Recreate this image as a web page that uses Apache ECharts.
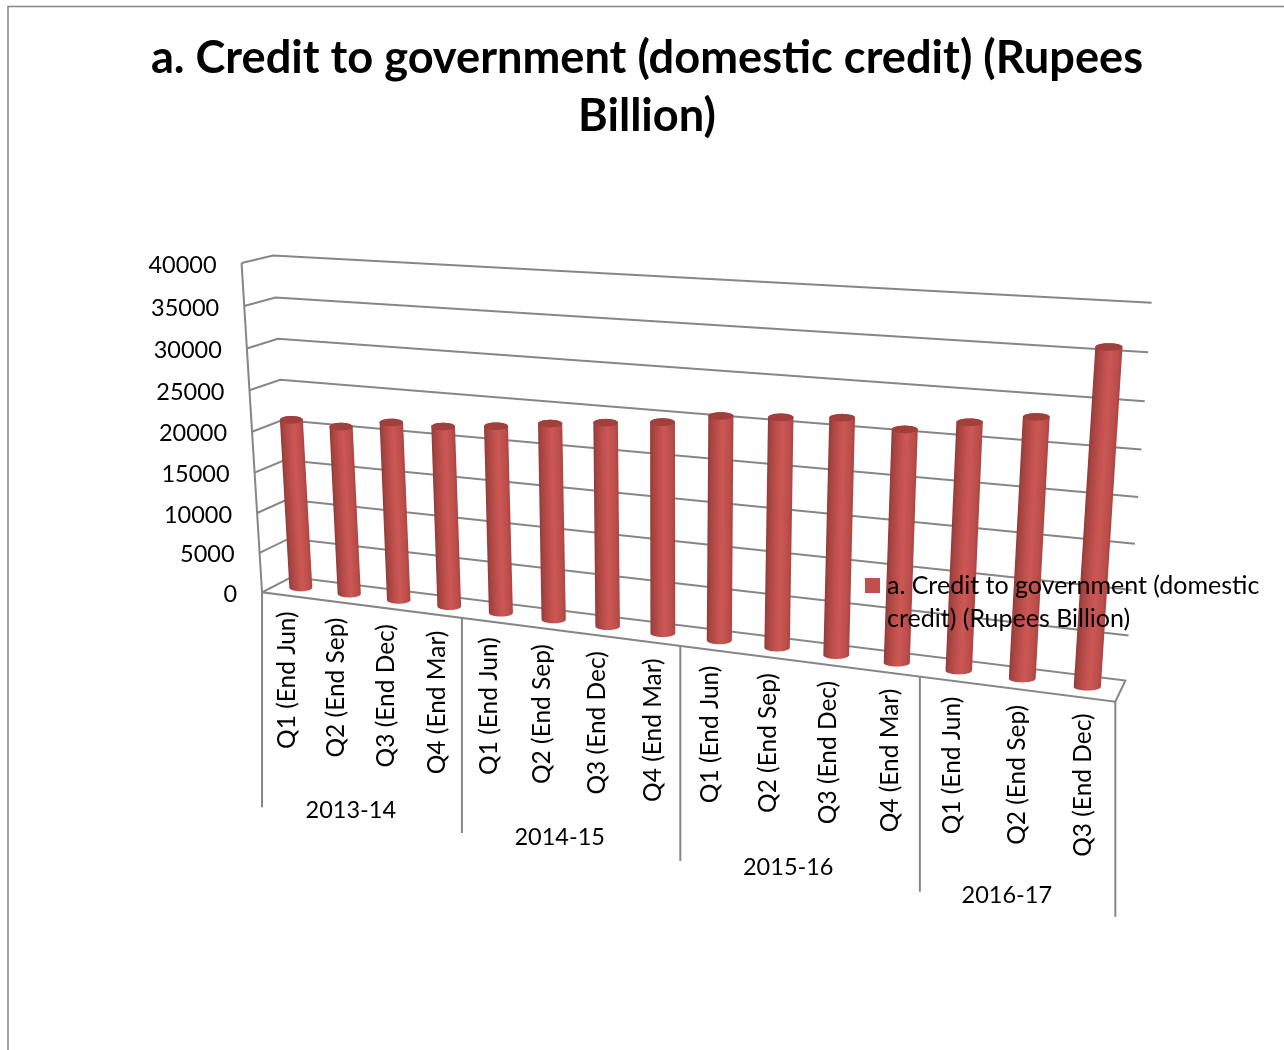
<!DOCTYPE html>
<html>
<head>
<meta charset="utf-8">
<style>html,body{margin:0;padding:0;background:#fff}#chart{width:1284px;height:1050px}</style>
<script src="https://cdn.jsdelivr.net/npm/echarts@6/dist/echarts.min.js"></script>
</head>
<body>
<div id="chart"></div>
<script>
// Chart data
const chartTitle = 'a. Credit to government (domestic credit) (Rupees\nBillion)';
const seriesName = 'a. Credit to government (domestic credit) (Rupees Billion)';
const quarters = ['Q1 (End Jun)', 'Q2 (End Sep)', 'Q3 (End Dec)', 'Q4 (End Mar)',
  'Q1 (End Jun)', 'Q2 (End Sep)', 'Q3 (End Dec)', 'Q4 (End Mar)',
  'Q1 (End Jun)', 'Q2 (End Sep)', 'Q3 (End Dec)', 'Q4 (End Mar)',
  'Q1 (End Jun)', 'Q2 (End Sep)', 'Q3 (End Dec)'];
const creditValues = [21000, 20720, 21760, 21820, 22400, 23250, 23900, 24500,
  25720, 26100, 26600, 25880, 27180, 28280, 35900];
const fiscalYears = ['2013-14', '2014-15', '2015-16', '2016-17'];
const fiscalYearStart = [0, 4, 8, 12, 15];
const valueTicks = [0, 5000, 10000, 15000, 20000, 25000, 30000, 35000, 40000];

// Camera: anchors tie the unit box (width, depth, height) to the page, and a
// 3x4 projective matrix is fitted through them by least squares.
const viewAnchors = [
  [0, 0, 0, 263.3, 591.7], [1, 0, 0, 1115.7, 702.7], [1, 1, 0, 1125.7, 679], [0, 1, 0, 290, 578.3],
  [0, 0, 1, 240, 263.3], [0, 1, 1, 274, 255.3], [1, 1, 1, 1151.7, 303.3],
  [4 / 15, 0, 0, 462, 618], [8 / 15, 0, 0, 680, 646], [12 / 15, 0, 0, 919.3, 677],
  [0, 0, 0.5, 252.7, 431], [0, 1, 0.5, 283, 420], [1, 1, 0.5, 1138, 496.7]
];

function fitCamera(anchors) {
  const n = 11, A = Array.from({length: n}, () => new Array(n + 1).fill(0));
  const add = (row, rhs) => {
    for (let i = 0; i < n; i++) {
      for (let j = 0; j < n; j++) A[i][j] += row[i] * row[j];
      A[i][n] += row[i] * rhs;
    }
  };
  anchors.forEach(([u, v, h, x, y]) => {
    add([u, v, h, 1, 0, 0, 0, 0, -x * u, -x * v, -x * h], x);
    add([0, 0, 0, 0, u, v, h, 1, -y * u, -y * v, -y * h], y);
  });
  for (let c = 0; c < n; c++) {
    let p = c;
    for (let r = c + 1; r < n; r++) if (Math.abs(A[r][c]) > Math.abs(A[p][c])) p = r;
    [A[c], A[p]] = [A[p], A[c]];
    for (let r = 0; r < n; r++) {
      if (r === c) continue;
      const f = A[r][c] / A[c][c];
      for (let k = c; k <= n; k++) A[r][k] -= f * A[c][k];
    }
  }
  return A.map((row, i) => row[n] / row[i]);
}
const cam = fitCamera(viewAnchors);
function project(u, v, h) {
  const w = cam[8] * u + cam[9] * v + cam[10] * h + 1;
  return [(cam[0] * u + cam[1] * v + cam[2] * h + cam[3]) / w,
          (cam[4] * u + cam[5] * v + cam[6] * h + cam[7]) / w];
}

// Turns an axis coordinate from the flat cartesian grid into box coordinates.
function boxPosition(api, params, category, value) {
  const cs = params.coordSys, pt = api.coord([category, value]);
  return [(pt[0] - cs.x) / cs.width, (cs.y + cs.height - pt[1]) / cs.height];
}

const LINE = {stroke: '#868686', lineWidth: 2, fill: null};
const FONT = 'Lato, "Open Sans", sans-serif';
const LABEL_SIZE = 24.5;
const BAR_DEPTH = 0.5, CAP_HALF_HEIGHT = 3.8;

function convexHull(pts) {
  const s = pts.slice().sort((a, b) => a[0] - b[0] || a[1] - b[1]);
  const cross = (o, a, b) => (a[0] - o[0]) * (b[1] - o[1]) - (a[1] - o[1]) * (b[0] - o[0]);
  const half = list => {
    const out = [];
    list.forEach(p => {
      while (out.length > 1 && cross(out[out.length - 2], out[out.length - 1], p) <= 0) out.pop();
      out.push(p);
    });
    out.pop();
    return out;
  };
  return half(s).concat(half(s.reverse()));
}

function renderCylinder(params, api) {
  const i = api.value(0);
  const [u, h] = boxPosition(api, params, i, api.value(1));
  const pixelsPerU = project(u + 0.01, BAR_DEPTH, 0)[0] - project(u - 0.01, BAR_DEPTH, 0)[0];
  const halfWidth = 5.85 + 0.392 * pixelsPerU;
  const ring = level => {
    const c = project(u, BAR_DEPTH, level), out = [];
    for (let k = 0; k < 48; k++) {
      const t = k / 48 * Math.PI * 2;
      out.push([c[0] + halfWidth * Math.cos(t), c[1] + CAP_HALF_HEIGHT * Math.sin(t)]);
    }
    return out;
  };
  const base = ring(0), top = ring(h);
  const bc = project(u, BAR_DEPTH, 0), tc = project(u, BAR_DEPTH, h);
  const my = (bc[1] + tc[1]) / 2, mx = (bc[0] + tc[0]) / 2;
  // Shading runs across the leaning cylinder, square to its axis.
  const len = Math.hypot(tc[0] - bc[0], tc[1] - bc[1]);
  const nx = (bc[1] - tc[1]) / len, ny = (tc[0] - bc[0]) / len;
  const shade = new echarts.graphic.LinearGradient(
    mx - nx * halfWidth, my - ny * halfWidth, mx + nx * halfWidth, my + ny * halfWidth, [
    {offset: 0, color: '#933a37'}, {offset: 0.12, color: '#a64441'},
    {offset: 0.4, color: '#c2504d'}, {offset: 0.58, color: '#cb5855'},
    {offset: 0.85, color: '#bd4e4b'}, {offset: 1, color: '#a94643'}
  ], true);
  return {
    type: 'group',
    children: [
      {type: 'polygon', shape: {points: convexHull(base.concat(top))}, style: {fill: shade}},
      {type: 'polygon', shape: {points: top}, style: {fill: '#a23f3c'}}
    ]
  };
}

function renderLevel(params, api) {
  const h = boxPosition(api, params, 0, api.value(1))[1];
  const points = [project(0, 0, h), project(0, 1, h), project(1, 1, h)];
  if (h === 0) points.push(project(1, 0, 0), project(0, 0, 0), project(0, 0, 1));
  const anchor = project(0, 0, h);
  return {
    type: 'group',
    children: [
      {type: 'polyline', shape: {points}, style: LINE},
      {type: 'text', x: anchor[0] - 25, y: anchor[1] + 2, style: {
        text: String(api.value(1)), align: 'right', verticalAlign: 'middle',
        fill: '#000', fontSize: 23.5, fontFamily: FONT}}
    ]
  };
}

function renderQuarterLabel(params, api) {
  const i = api.value(0);
  const p = project(boxPosition(api, params, i, 0)[0], 0, 0);
  return {
    type: 'text', x: p[0] + 1, y: p[1] + 16, rotation: Math.PI / 2,
    style: {text: quarters[i], align: 'right', verticalAlign: 'middle',
      fill: '#000', fontSize: LABEL_SIZE, fontFamily: FONT}
  };
}

function renderYearGroup(params, api) {
  const g = api.value(0);
  const start = fiscalYearStart[g], end = fiscalYearStart[g + 1];
  const band = api.size([1, 0])[0] / params.coordSys.width;
  const edge = c => project(c * band, 0, 0);
  const mid = edge((start + end) / 2), a = edge(start), z = edge(end);
  const children = [
    {type: 'line', shape: {x1: a[0], y1: a[1], x2: a[0], y2: a[1] + 215}, style: LINE},
    {type: 'text', x: mid[0] - 9, y: mid[1] + 206, style: {
      text: fiscalYears[g], align: 'center', verticalAlign: 'middle',
      fill: '#000', fontSize: 23.5, fontFamily: FONT}}
  ];
  if (g === fiscalYears.length - 1) {
    children.push({type: 'line', shape: {x1: z[0], y1: z[1], x2: z[0], y2: z[1] + 215}, style: LINE});
  }
  return {type: 'group', children};
}

const chart = echarts.init(document.getElementById('chart'), null, {renderer: 'canvas'});
chart.setOption({
  animation: false,
  backgroundColor: '#fff',
  title: {
    text: chartTitle, left: 642, top: 24, textAlign: 'center',
    textStyle: {fontFamily: FONT, fontWeight: 'bold', fontSize: 45.2, lineHeight: 58, color: '#000'}
  },
  legend: {
    left: 865, top: 569, orient: 'vertical', padding: 0,
    data: [{name: seriesName, icon: 'path://M0 0H15V15H0Z M0 48H15V48H0Z'}],
    itemWidth: 15, itemHeight: 48, itemGap: 0, itemStyle: {}, selectedMode: false,
    formatter: () => 'a. Credit to government (domestic\ncredit) (Rupees Billion)',
    textStyle: {fontFamily: FONT, fontSize: 25, lineHeight: 33, color: '#000', padding: [0, 0, 0, 2]}
  },
  grid: {left: 0, right: 0, top: 0, bottom: 0},
  xAxis: {type: 'category', data: quarters, show: false},
  yAxis: {type: 'value', min: 0, max: 40000, interval: 5000, show: false},
  graphic: [
    {type: 'polyline', silent: true, shape: {points: [[1284, 6.5], [8, 6.5], [8, 1050]]},
      style: {stroke: '#868686', lineWidth: 1.5, fill: null}}
  ],
  series: [
    {type: 'custom', name: 'levels', silent: true, renderItem: renderLevel,
      encode: {x: 0, y: 1}, data: valueTicks.map(v => [0, v]), z: 1},
    {type: 'custom', name: 'year groups', silent: true, renderItem: renderYearGroup,
      encode: {x: 0, y: 1}, data: fiscalYears.map((y, g) => [g, 0]), z: 1},
    {type: 'custom', name: 'quarter labels', silent: true, renderItem: renderQuarterLabel,
      encode: {x: 0, y: 1}, data: quarters.map((q, i) => [i, 0]), z: 1},
    {type: 'custom', name: seriesName, renderItem: renderCylinder,
      itemStyle: {color: '#c0504d'}, encode: {x: 0, y: 1},
      data: creditValues.map((v, i) => [i, v]), z: 2}
  ]
});
</script>
</body>
</html>
